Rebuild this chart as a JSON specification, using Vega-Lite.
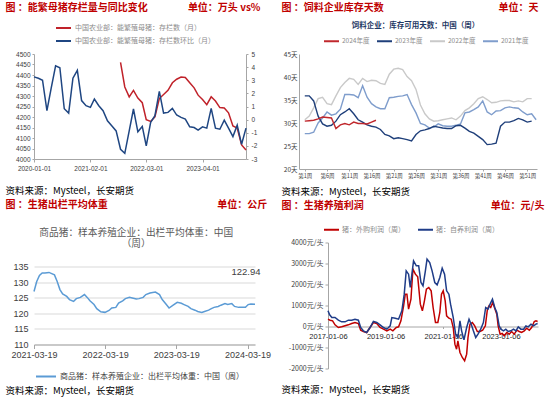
{
  "$schema": "https://vega.github.io/schema/vega-lite/v6.json",
  "autosize": "none",
  "padding": {"left": 34, "top": 54, "right": 516, "bottom": 343},
  "background": "white",
  "config": {
    "view": {"stroke": null},
    "font": "Noto Sans CJK SC",
    "axis": {"labelFont": "Liberation Sans", "titleFont": "Noto Sans CJK SC", "labelColor": "#404040", "domainColor": "#a6a6a6", "tickColor": "#a6a6a6", "grid": false, "labelFlush": false, "labelOverlap": false},
    "legend": {"labelFont": "Noto Sans CJK SC", "symbolType": "stroke", "symbolStrokeWidth": 2, "padding": 0, "labelLimit": 400}
  },
  "datasets": {
    "p1s": [
      {"d": "2021-09-01", "v": 4460}, {"d": "2021-10-01", "v": 4343}, {"d": "2021-11-01", "v": 4296}, {"d": "2021-12-01", "v": 4327},
      {"d": "2022-01-01", "v": 4290}, {"d": "2022-02-01", "v": 4268}, {"d": "2022-03-01", "v": 4187}, {"d": "2022-04-01", "v": 4179},
      {"d": "2022-05-01", "v": 4200}, {"d": "2022-06-01", "v": 4288}, {"d": "2022-07-01", "v": 4307}, {"d": "2022-08-01", "v": 4327},
      {"d": "2022-09-01", "v": 4363}, {"d": "2022-10-01", "v": 4380}, {"d": "2022-11-01", "v": 4390}, {"d": "2022-12-01", "v": 4388},
      {"d": "2023-01-01", "v": 4363}, {"d": "2023-02-01", "v": 4339}, {"d": "2023-03-01", "v": 4304}, {"d": "2023-04-01", "v": 4283},
      {"d": "2023-05-01", "v": 4259}, {"d": "2023-06-01", "v": 4296}, {"d": "2023-07-01", "v": 4276}, {"d": "2023-08-01", "v": 4245},
      {"d": "2023-09-01", "v": 4243}, {"d": "2023-10-01", "v": 4220}, {"d": "2023-11-01", "v": 4157}, {"d": "2023-12-01", "v": 4147},
      {"d": "2024-01-01", "v": 4067}, {"d": "2024-02-01", "v": 4043}
    ],
    "p1m": [
      {"d": "2020-01-01", "v": 3.26}, {"d": "2020-02-01", "v": 3.15}, {"d": "2020-03-01", "v": 3.0}, {"d": "2020-04-01", "v": 0.68},
      {"d": "2020-05-01", "v": 2.4}, {"d": "2020-06-01", "v": 4.1}, {"d": "2020-07-01", "v": 3.95}, {"d": "2020-08-01", "v": 0.83},
      {"d": "2020-09-01", "v": 0.5}, {"d": "2020-10-01", "v": 3.16}, {"d": "2020-11-01", "v": 3.75}, {"d": "2020-12-01", "v": 1.45},
      {"d": "2021-01-01", "v": 1.06}, {"d": "2021-02-01", "v": 0.93}, {"d": "2021-03-01", "v": 1.57}, {"d": "2021-04-01", "v": 1.06},
      {"d": "2021-05-01", "v": 0.68}, {"d": "2021-06-01", "v": -0.09}, {"d": "2021-07-01", "v": -0.47}, {"d": "2021-08-01", "v": -0.86},
      {"d": "2021-09-01", "v": -2.26}, {"d": "2021-10-01", "v": -2.57}, {"d": "2021-11-01", "v": -0.86}, {"d": "2021-12-01", "v": 0.81},
      {"d": "2022-01-01", "v": -0.93}, {"d": "2022-02-01", "v": -0.52}, {"d": "2022-03-01", "v": -2.0}, {"d": "2022-04-01", "v": -0.2},
      {"d": "2022-05-01", "v": 0.3}, {"d": "2022-06-01", "v": 2.16}, {"d": "2022-07-01", "v": 0.5}, {"d": "2022-08-01", "v": 0.55},
      {"d": "2022-09-01", "v": 0.86}, {"d": "2022-10-01", "v": 0.35}, {"d": "2022-11-01", "v": 0.17}, {"d": "2022-12-01", "v": 0.04},
      {"d": "2023-01-01", "v": -0.55}, {"d": "2023-02-01", "v": -0.6}, {"d": "2023-03-01", "v": -0.8}, {"d": "2023-04-01", "v": -0.55},
      {"d": "2023-05-01", "v": -0.65}, {"d": "2023-06-01", "v": 0.86}, {"d": "2023-07-01", "v": -0.65}, {"d": "2023-08-01", "v": -0.73},
      {"d": "2023-09-01", "v": -0.04}, {"d": "2023-10-01", "v": -0.65}, {"d": "2023-11-01", "v": -1.29}, {"d": "2023-12-01", "v": -0.42},
      {"d": "2024-01-01", "v": -1.88}, {"d": "2024-02-01", "v": -0.65}
    ],
    "p2": [
      {"w": 1, "yr": "2022年度", "v": 30.7}, {"w": 2, "yr": "2022年度", "v": 31.5}, {"w": 3, "yr": "2022年度", "v": 33.3}, {"w": 4, "yr": "2022年度", "v": 35.3},
      {"w": 5, "yr": "2022年度", "v": 35.6}, {"w": 6, "yr": "2022年度", "v": 34.2}, {"w": 7, "yr": "2022年度", "v": 34.0}, {"w": 8, "yr": "2022年度", "v": 35.9},
      {"w": 9, "yr": "2022年度", "v": 37.7}, {"w": 10, "yr": "2022年度", "v": 38.8}, {"w": 11, "yr": "2022年度", "v": 39.7}, {"w": 12, "yr": "2022年度", "v": 39.5},
      {"w": 13, "yr": "2022年度", "v": 38.4}, {"w": 14, "yr": "2022年度", "v": 39.7}, {"w": 15, "yr": "2022年度", "v": 39.0}, {"w": 16, "yr": "2022年度", "v": 39.3},
      {"w": 17, "yr": "2022年度", "v": 39.2}, {"w": 18, "yr": "2022年度", "v": 38.6}, {"w": 19, "yr": "2022年度", "v": 38.4}, {"w": 20, "yr": "2022年度", "v": 40.6},
      {"w": 21, "yr": "2022年度", "v": 41.7}, {"w": 22, "yr": "2022年度", "v": 41.9}, {"w": 23, "yr": "2022年度", "v": 41.6}, {"w": 24, "yr": "2022年度", "v": 40.1},
      {"w": 25, "yr": "2022年度", "v": 39.2}, {"w": 26, "yr": "2022年度", "v": 37.3}, {"w": 27, "yr": "2022年度", "v": 33.9}, {"w": 28, "yr": "2022年度", "v": 32.0},
      {"w": 29, "yr": "2022年度", "v": 30.9}, {"w": 30, "yr": "2022年度", "v": 30.4}, {"w": 31, "yr": "2022年度", "v": 30.5}, {"w": 32, "yr": "2022年度", "v": 30.7},
      {"w": 33, "yr": "2022年度", "v": 30.9}, {"w": 34, "yr": "2022年度", "v": 31.1}, {"w": 35, "yr": "2022年度", "v": 30.7}, {"w": 36, "yr": "2022年度", "v": 31.5},
      {"w": 37, "yr": "2022年度", "v": 32.7}, {"w": 38, "yr": "2022年度", "v": 33.3}, {"w": 39, "yr": "2022年度", "v": 34.2}, {"w": 40, "yr": "2022年度", "v": 35.3},
      {"w": 41, "yr": "2022年度", "v": 35.7}, {"w": 42, "yr": "2022年度", "v": 35.1}, {"w": 43, "yr": "2022年度", "v": 34.4}, {"w": 44, "yr": "2022年度", "v": 34.5},
      {"w": 45, "yr": "2022年度", "v": 34.8}, {"w": 46, "yr": "2022年度", "v": 34.9}, {"w": 47, "yr": "2022年度", "v": 34.9}, {"w": 48, "yr": "2022年度", "v": 34.6},
      {"w": 49, "yr": "2022年度", "v": 34.8}, {"w": 50, "yr": "2022年度", "v": 34.6}, {"w": 51, "yr": "2022年度", "v": 35.3}, {"w": 52, "yr": "2022年度", "v": 35.3},
      {"w": 1, "yr": "2021年度", "v": 27.7}, {"w": 2, "yr": "2021年度", "v": 27.7}, {"w": 3, "yr": "2021年度", "v": 28.0}, {"w": 4, "yr": "2021年度", "v": 30.0},
      {"w": 5, "yr": "2021年度", "v": 31.1}, {"w": 6, "yr": "2021年度", "v": 32.4}, {"w": 7, "yr": "2021年度", "v": 31.7}, {"w": 8, "yr": "2021年度", "v": 32.0},
      {"w": 9, "yr": "2021年度", "v": 33.0}, {"w": 10, "yr": "2021年度", "v": 36.2}, {"w": 11, "yr": "2021年度", "v": 36.2}, {"w": 12, "yr": "2021年度", "v": 36.1},
      {"w": 13, "yr": "2021年度", "v": 35.5}, {"w": 14, "yr": "2021年度", "v": 38.1}, {"w": 15, "yr": "2021年度", "v": 35.6}, {"w": 16, "yr": "2021年度", "v": 34.2},
      {"w": 17, "yr": "2021年度", "v": 33.5}, {"w": 18, "yr": "2021年度", "v": 33.1}, {"w": 19, "yr": "2021年度", "v": 33.1}, {"w": 20, "yr": "2021年度", "v": 35.5},
      {"w": 21, "yr": "2021年度", "v": 35.6}, {"w": 22, "yr": "2021年度", "v": 35.8}, {"w": 23, "yr": "2021年度", "v": 35.9}, {"w": 24, "yr": "2021年度", "v": 36.2},
      {"w": 25, "yr": "2021年度", "v": 34.0}, {"w": 26, "yr": "2021年度", "v": 32.2}, {"w": 27, "yr": "2021年度", "v": 29.9}, {"w": 28, "yr": "2021年度", "v": 29.6},
      {"w": 29, "yr": "2021年度", "v": 28.9}, {"w": 30, "yr": "2021年度", "v": 29.1}, {"w": 31, "yr": "2021年度", "v": 29.8}, {"w": 32, "yr": "2021年度", "v": 29.4},
      {"w": 33, "yr": "2021年度", "v": 29.3}, {"w": 34, "yr": "2021年度", "v": 29.3}, {"w": 35, "yr": "2021年度", "v": 29.5}, {"w": 36, "yr": "2021年度", "v": 29.8},
      {"w": 37, "yr": "2021年度", "v": 32.2}, {"w": 38, "yr": "2021年度", "v": 32.4}, {"w": 39, "yr": "2021年度", "v": 32.9}, {"w": 40, "yr": "2021年度", "v": 33.5},
      {"w": 41, "yr": "2021年度", "v": 34.8}, {"w": 42, "yr": "2021年度", "v": 32.4}, {"w": 43, "yr": "2021年度", "v": 31.8}, {"w": 44, "yr": "2021年度", "v": 32.6},
      {"w": 45, "yr": "2021年度", "v": 32.7}, {"w": 46, "yr": "2021年度", "v": 33.3}, {"w": 47, "yr": "2021年度", "v": 33.5}, {"w": 48, "yr": "2021年度", "v": 33.3},
      {"w": 49, "yr": "2021年度", "v": 33.2}, {"w": 50, "yr": "2021年度", "v": 32.4}, {"w": 51, "yr": "2021年度", "v": 31.8}, {"w": 52, "yr": "2021年度", "v": 32.0},
      {"w": 53, "yr": "2021年度", "v": 30.7},
      {"w": 1, "yr": "2023年度", "v": 35.9}, {"w": 2, "yr": "2023年度", "v": 35.9}, {"w": 3, "yr": "2023年度", "v": 34.8}, {"w": 4, "yr": "2023年度", "v": 31.5},
      {"w": 5, "yr": "2023年度", "v": 29.8}, {"w": 6, "yr": "2023年度", "v": 29.3}, {"w": 7, "yr": "2023年度", "v": 29.5}, {"w": 8, "yr": "2023年度", "v": 30.4},
      {"w": 9, "yr": "2023年度", "v": 31.8}, {"w": 10, "yr": "2023年度", "v": 32.4}, {"w": 11, "yr": "2023年度", "v": 33.1}, {"w": 12, "yr": "2023年度", "v": 32.0},
      {"w": 13, "yr": "2023年度", "v": 30.7}, {"w": 14, "yr": "2023年度", "v": 30.2}, {"w": 15, "yr": "2023年度", "v": 29.6}, {"w": 16, "yr": "2023年度", "v": 29.3},
      {"w": 17, "yr": "2023年度", "v": 29.1}, {"w": 18, "yr": "2023年度", "v": 28.6}, {"w": 19, "yr": "2023年度", "v": 27.5}, {"w": 20, "yr": "2023年度", "v": 27.2},
      {"w": 21, "yr": "2023年度", "v": 26.6}, {"w": 22, "yr": "2023年度", "v": 26.8}, {"w": 23, "yr": "2023年度", "v": 26.6}, {"w": 24, "yr": "2023年度", "v": 26.4},
      {"w": 25, "yr": "2023年度", "v": 26.1}, {"w": 26, "yr": "2023年度", "v": 27.5}, {"w": 27, "yr": "2023年度", "v": 28.3}, {"w": 28, "yr": "2023年度", "v": 28.5},
      {"w": 29, "yr": "2023年度", "v": 28.8}, {"w": 30, "yr": "2023年度", "v": 29.3}, {"w": 31, "yr": "2023年度", "v": 29.1}, {"w": 32, "yr": "2023年度", "v": 28.9},
      {"w": 33, "yr": "2023年度", "v": 28.8}, {"w": 34, "yr": "2023年度", "v": 28.8}, {"w": 35, "yr": "2023年度", "v": 29.4}, {"w": 36, "yr": "2023年度", "v": 29.5},
      {"w": 37, "yr": "2023年度", "v": 28.9}, {"w": 38, "yr": "2023年度", "v": 28.2}, {"w": 39, "yr": "2023年度", "v": 27.8}, {"w": 40, "yr": "2023年度", "v": 27.1},
      {"w": 41, "yr": "2023年度", "v": 26.4}, {"w": 42, "yr": "2023年度", "v": 25.3}, {"w": 43, "yr": "2023年度", "v": 25.4}, {"w": 44, "yr": "2023年度", "v": 25.6},
      {"w": 45, "yr": "2023年度", "v": 29.3}, {"w": 46, "yr": "2023年度", "v": 30.2}, {"w": 47, "yr": "2023年度", "v": 30.2}, {"w": 48, "yr": "2023年度", "v": 30.5},
      {"w": 49, "yr": "2023年度", "v": 31.0}, {"w": 50, "yr": "2023年度", "v": 30.7}, {"w": 51, "yr": "2023年度", "v": 30.2}, {"w": 52, "yr": "2023年度", "v": 30.4},
      {"w": 1, "yr": "2024年度", "v": 30.4}, {"w": 2, "yr": "2024年度", "v": 30.5}, {"w": 3, "yr": "2024年度", "v": 30.6}, {"w": 4, "yr": "2024年度", "v": 30.9},
      {"w": 5, "yr": "2024年度", "v": 31.3}, {"w": 6, "yr": "2024年度", "v": 31.2}, {"w": 7, "yr": "2024年度", "v": 31.1}, {"w": 8, "yr": "2024年度", "v": 28.8},
      {"w": 9, "yr": "2024年度", "v": 29.6}, {"w": 10, "yr": "2024年度", "v": 29.9}, {"w": 11, "yr": "2024年度", "v": 29.6}, {"w": 12, "yr": "2024年度", "v": 30.2},
      {"w": 13, "yr": "2024年度", "v": 29.9}, {"w": 14, "yr": "2024年度", "v": 29.9}, {"w": 15, "yr": "2024年度", "v": 29.8}, {"w": 16, "yr": "2024年度", "v": 30.2},
      {"w": 17, "yr": "2024年度", "v": 30.6}
    ],
    "p3": [
      {"d": "2021-03-19", "v": 127.0}, {"d": "2021-04-02", "v": 130.2}, {"d": "2021-04-16", "v": 132.1}, {"d": "2021-04-30", "v": 132.9},
      {"d": "2021-05-14", "v": 132.9}, {"d": "2021-06-04", "v": 133.1}, {"d": "2021-06-18", "v": 132.7}, {"d": "2021-07-02", "v": 132.3},
      {"d": "2021-07-16", "v": 130.2}, {"d": "2021-07-30", "v": 127.6}, {"d": "2021-08-13", "v": 126.2}, {"d": "2021-09-03", "v": 125.4},
      {"d": "2021-09-17", "v": 124.4}, {"d": "2021-10-08", "v": 123.8}, {"d": "2021-10-22", "v": 124.7}, {"d": "2021-11-12", "v": 125.1},
      {"d": "2021-12-03", "v": 126.0}, {"d": "2021-12-17", "v": 125.1}, {"d": "2021-12-31", "v": 124.0}, {"d": "2022-01-21", "v": 122.8},
      {"d": "2022-02-04", "v": 121.5}, {"d": "2022-02-25", "v": 120.5}, {"d": "2022-03-18", "v": 120.3}, {"d": "2022-04-08", "v": 120.9},
      {"d": "2022-04-22", "v": 121.7}, {"d": "2022-05-13", "v": 121.9}, {"d": "2022-05-27", "v": 123.3}, {"d": "2022-06-17", "v": 124.0},
      {"d": "2022-07-01", "v": 124.7}, {"d": "2022-07-22", "v": 125.1}, {"d": "2022-08-05", "v": 124.9}, {"d": "2022-08-26", "v": 124.6},
      {"d": "2022-09-09", "v": 124.7}, {"d": "2022-09-30", "v": 125.1}, {"d": "2022-10-14", "v": 126.0}, {"d": "2022-11-04", "v": 126.5},
      {"d": "2022-11-18", "v": 126.7}, {"d": "2022-12-02", "v": 126.8}, {"d": "2022-12-23", "v": 126.0}, {"d": "2023-01-06", "v": 124.4},
      {"d": "2023-01-27", "v": 122.8}, {"d": "2023-02-10", "v": 121.7}, {"d": "2023-03-03", "v": 122.6}, {"d": "2023-03-24", "v": 123.5},
      {"d": "2023-04-14", "v": 123.2}, {"d": "2023-04-28", "v": 122.8}, {"d": "2023-05-19", "v": 122.2}, {"d": "2023-06-02", "v": 121.5},
      {"d": "2023-06-23", "v": 121.0}, {"d": "2023-07-07", "v": 120.6}, {"d": "2023-07-28", "v": 120.3}, {"d": "2023-08-11", "v": 120.6},
      {"d": "2023-09-01", "v": 121.0}, {"d": "2023-09-15", "v": 121.5}, {"d": "2023-09-29", "v": 121.9}, {"d": "2023-10-20", "v": 122.2},
      {"d": "2023-11-03", "v": 122.6}, {"d": "2023-11-24", "v": 123.1}, {"d": "2023-12-08", "v": 122.8}, {"d": "2023-12-29", "v": 123.1},
      {"d": "2024-01-12", "v": 122.2}, {"d": "2024-02-02", "v": 121.9}, {"d": "2024-02-16", "v": 121.9}, {"d": "2024-03-08", "v": 121.9},
      {"d": "2024-03-22", "v": 122.8}, {"d": "2024-04-05", "v": 123.0}, {"d": "2024-04-26", "v": 122.94}
    ],
    "p4r": [
      {"d": "2017-01-06", "v": 349}, {"d": "2017-02-01", "v": 301}, {"d": "2017-03-05", "v": 270}, {"d": "2017-04-05", "v": 79},
      {"d": "2017-05-17", "v": -48}, {"d": "2017-06-28", "v": -16}, {"d": "2017-08-10", "v": 32}, {"d": "2017-09-21", "v": 79},
      {"d": "2017-11-02", "v": 143}, {"d": "2017-12-14", "v": 190}, {"d": "2018-01-26", "v": 143}, {"d": "2018-02-24", "v": -175},
      {"d": "2018-03-30", "v": -238}, {"d": "2018-05-11", "v": -286}, {"d": "2018-06-23", "v": -48}, {"d": "2018-08-04", "v": 190},
      {"d": "2018-09-16", "v": 143}, {"d": "2018-10-28", "v": -48}, {"d": "2018-12-10", "v": -127}, {"d": "2019-01-22", "v": -206},
      {"d": "2019-03-05", "v": -127}, {"d": "2019-04-08", "v": -206}, {"d": "2019-05-21", "v": -48}, {"d": "2019-06-19", "v": -16},
      {"d": "2019-07-19", "v": 270}, {"d": "2019-08-22", "v": 984}, {"d": "2019-09-12", "v": 1539}, {"d": "2019-10-03", "v": 1539},
      {"d": "2019-10-24", "v": 825}, {"d": "2019-11-23", "v": 1301}, {"d": "2019-12-18", "v": 2730}, {"d": "2020-01-18", "v": 2492},
      {"d": "2020-02-17", "v": 2365}, {"d": "2020-03-21", "v": 1063}, {"d": "2020-04-16", "v": 746}, {"d": "2020-05-12", "v": 1222},
      {"d": "2020-06-06", "v": 1777}, {"d": "2020-07-06", "v": 1857}, {"d": "2020-08-05", "v": 1698}, {"d": "2020-08-30", "v": 905},
      {"d": "2020-09-29", "v": 190}, {"d": "2020-10-29", "v": 190}, {"d": "2020-11-23", "v": 666}, {"d": "2020-12-14", "v": 1539},
      {"d": "2021-01-05", "v": 1698}, {"d": "2021-01-30", "v": 1222}, {"d": "2021-02-17", "v": 508}, {"d": "2021-03-18", "v": 397},
      {"d": "2021-04-16", "v": 349}, {"d": "2021-05-12", "v": -48}, {"d": "2021-06-02", "v": -841}, {"d": "2021-06-23", "v": -1079},
      {"d": "2021-07-10", "v": -682}, {"d": "2021-08-05", "v": -1238}, {"d": "2021-09-04", "v": -1476}, {"d": "2021-10-03", "v": -1635},
      {"d": "2021-10-29", "v": -1317}, {"d": "2021-11-15", "v": -524}, {"d": "2021-12-10", "v": 111}, {"d": "2022-01-09", "v": 190},
      {"d": "2022-02-08", "v": 32}, {"d": "2022-03-13", "v": -238}, {"d": "2022-04-16", "v": -238}, {"d": "2022-05-20", "v": -175},
      {"d": "2022-06-23", "v": 32}, {"d": "2022-07-19", "v": 825}, {"d": "2022-08-09", "v": 984}, {"d": "2022-08-30", "v": 905},
      {"d": "2022-09-25", "v": 1143}, {"d": "2022-10-24", "v": 825}, {"d": "2022-11-15", "v": 587}, {"d": "2022-12-02", "v": 32},
      {"d": "2022-12-27", "v": -365}, {"d": "2023-01-22", "v": -333}, {"d": "2023-02-16", "v": -444}, {"d": "2023-03-22", "v": -286},
      {"d": "2023-04-21", "v": -365}, {"d": "2023-05-21", "v": -238}, {"d": "2023-06-24", "v": -365}, {"d": "2023-07-27", "v": -175},
      {"d": "2023-08-26", "v": -238}, {"d": "2023-09-25", "v": -286}, {"d": "2023-10-29", "v": -206}, {"d": "2023-11-28", "v": -79},
      {"d": "2024-01-01", "v": -175}, {"d": "2024-01-30", "v": -48}, {"d": "2024-03-04", "v": 238}, {"d": "2024-03-25", "v": 270},
      {"d": "2024-04-15", "v": 238}
    ],
    "p4b": [
      {"d": "2017-01-06", "v": 746}, {"d": "2017-01-27", "v": 555}, {"d": "2017-02-24", "v": 428}, {"d": "2017-04-05", "v": 428},
      {"d": "2017-05-17", "v": 301}, {"d": "2017-06-28", "v": 222}, {"d": "2017-08-10", "v": 222}, {"d": "2017-09-21", "v": 301},
      {"d": "2017-11-02", "v": 301}, {"d": "2017-12-14", "v": 349}, {"d": "2018-01-26", "v": 301}, {"d": "2018-02-24", "v": -48},
      {"d": "2018-03-30", "v": -206}, {"d": "2018-05-11", "v": -286}, {"d": "2018-06-23", "v": -48}, {"d": "2018-08-04", "v": 238},
      {"d": "2018-09-16", "v": 190}, {"d": "2018-10-28", "v": 79}, {"d": "2018-12-10", "v": -48}, {"d": "2019-01-22", "v": -127},
      {"d": "2019-03-05", "v": 32}, {"d": "2019-03-26", "v": 428}, {"d": "2019-05-08", "v": 397}, {"d": "2019-06-19", "v": 349},
      {"d": "2019-07-31", "v": 746}, {"d": "2019-08-30", "v": 1539}, {"d": "2019-09-24", "v": 2650}, {"d": "2019-10-24", "v": 2492},
      {"d": "2019-11-14", "v": 1857}, {"d": "2019-12-05", "v": 2492}, {"d": "2019-12-26", "v": 3126}, {"d": "2020-01-30", "v": 2888},
      {"d": "2020-02-29", "v": 2888}, {"d": "2020-03-29", "v": 2095}, {"d": "2020-04-24", "v": 1936}, {"d": "2020-05-24", "v": 2650},
      {"d": "2020-06-14", "v": 3206}, {"d": "2020-07-18", "v": 3047}, {"d": "2020-08-17", "v": 2650}, {"d": "2020-09-20", "v": 2095},
      {"d": "2020-10-20", "v": 1984}, {"d": "2020-11-23", "v": 2333}, {"d": "2020-12-23", "v": 2777}, {"d": "2021-01-22", "v": 2492},
      {"d": "2021-02-17", "v": 1698}, {"d": "2021-03-18", "v": 1539}, {"d": "2021-04-08", "v": 1063}, {"d": "2021-05-12", "v": 428},
      {"d": "2021-06-11", "v": -365}, {"d": "2021-07-10", "v": -524}, {"d": "2021-08-05", "v": 270}, {"d": "2021-08-26", "v": -206},
      {"d": "2021-09-25", "v": -635}, {"d": "2021-10-29", "v": -48}, {"d": "2021-11-28", "v": 349}, {"d": "2021-12-28", "v": 79},
      {"d": "2022-01-22", "v": -206}, {"d": "2022-02-21", "v": -524}, {"d": "2022-03-22", "v": -365}, {"d": "2022-04-25", "v": -127},
      {"d": "2022-05-29", "v": 190}, {"d": "2022-06-27", "v": 905}, {"d": "2022-07-27", "v": 825}, {"d": "2022-08-22", "v": 1063},
      {"d": "2022-09-21", "v": 1301}, {"d": "2022-10-20", "v": 905}, {"d": "2022-11-15", "v": 666}, {"d": "2022-12-15", "v": 32},
      {"d": "2023-01-05", "v": -127}, {"d": "2023-02-08", "v": -206}, {"d": "2023-03-09", "v": -127}, {"d": "2023-04-08", "v": -238},
      {"d": "2023-05-12", "v": -206}, {"d": "2023-06-15", "v": -127}, {"d": "2023-07-15", "v": -206}, {"d": "2023-08-14", "v": -16},
      {"d": "2023-09-16", "v": -127}, {"d": "2023-10-20", "v": -127}, {"d": "2023-11-19", "v": 32}, {"d": "2023-12-18", "v": -16},
      {"d": "2024-01-22", "v": 111}, {"d": "2024-02-24", "v": 32}, {"d": "2024-03-25", "v": 111}, {"d": "2024-04-15", "v": 143}
    ]
  },
  "spacing": 2.5,
  "resolve": {"scale": {"color": "independent"}, "legend": {"color": "independent"}},
  "vconcat": [
    {
      "spacing": 53,
      "bounds": "flush",
      "resolve": {"scale": {"color": "independent"}, "legend": {"color": "independent"}},
      "hconcat": [
        {
          "width": 212,
          "height": 105,
          "encoding": {
            "x": {
              "field": "d", "type": "temporal",
              "scale": {"type": "utc", "domain": [{"year": 2020, "month": 1, "date": 1, "utc": true}, {"year": 2024, "month": 2, "date": 1, "utc": true}]},
              "axis": {
                "values": [{"year": 2020, "month": 1, "date": 1, "utc": true}, {"year": 2021, "month": 2, "date": 1, "utc": true}, {"year": 2022, "month": 3, "date": 1, "utc": true}, {"year": 2023, "month": 4, "date": 1, "utc": true}],
                "format": "%Y-%m-%d", "labelFontSize": 6.5, "tickSize": 3, "labelPadding": 3,
                "title": "资料来源：Mysteel，长安期货", "titleX": -29, "titleY": 31.5, "titleAlign": "left", "titleBaseline": "middle",
                "titleFontSize": 9.5, "titleFontWeight": "normal", "titleColor": "#000000"
              }
            }
          },
          "layer": [
            {
              "data": {"name": "p1s"},
              "mark": {"type": "line", "strokeWidth": 1.5},
              "encoding": {
                "y": {
                  "field": "v", "type": "quantitative",
                  "scale": {"domain": [4000, 4500], "nice": false, "zero": false},
                  "axis": {
                    "values": [4000, 4050, 4100, 4150, 4200, 4250, 4300, 4350, 4400, 4450, 4500],
                    "format": "d", "labelFontSize": 6.5, "tickSize": 2, "labelPadding": 2,
                    "title": "图 ：能繁母猪存栏量与同比变化", "titleAngle": 0, "titleX": -29, "titleY": -47, "titleAlign": "left", "titleBaseline": "middle",
                    "titleFontSize": 10, "titleFontWeight": "bold", "titleColor": "#C00000"
                  }
                },
                "color": {
                  "datum": "中国农业部：能繁殖母猪：存栏数（月）",
                  "scale": {"domain": ["中国农业部：能繁殖母猪：存栏数（月）", "中国农业部：能繁殖母猪：存栏数环比（月）"], "range": ["#c0222a", "#1f4682"]},
                  "legend": {"orient": "none", "legendX": 21, "legendY": -34.5, "direction": "vertical", "title": null, "labelFontSize": 7, "labelColor": "#8c8c8c", "symbolSize": 225, "rowPadding": -4, "labelOffset": 3}
                }
              }
            },
            {
              "data": {"name": "p1m"},
              "mark": {"type": "line", "strokeWidth": 1.5},
              "encoding": {
                "y": {
                  "field": "v", "type": "quantitative",
                  "scale": {"domain": [-3, 5], "nice": false, "zero": false},
                  "axis": {
                    "orient": "right", "values": [-3, -2, -1, 0, 1, 2, 3, 4, 5], "labelExpr": "'' + datum.value",
                    "labelFontSize": 6.5, "tickSize": 2, "labelPadding": 3,
                    "title": "单位：万头 vs%", "titleAngle": 0, "titleX": 14, "titleY": -47, "titleAlign": "right", "titleBaseline": "middle",
                    "titleFontSize": 10, "titleFontWeight": "bold", "titleColor": "#C00000"
                  }
                },
                "color": {"datum": "中国农业部：能繁殖母猪：存栏数环比（月）"}
              }
            }
          ],
          "resolve": {"scale": {"y": "independent"}}
        },
        {
          "width": 238,
          "height": 115,
          "data": {"name": "p2"},
          "layer": [
            {
              "mark": {"type": "line", "strokeWidth": 1.4},
              "encoding": {
                "x": {
                  "field": "w", "type": "quantitative",
                  "scale": {"domain": [-0.3, 53.2], "nice": false, "zero": false},
                  "axis": {
                    "values": [1, 6, 11, 16, 21, 26, 31, 36, 41, 46, 51], "labelExpr": "'第' + datum.value + '周'",
                    "labelFont": "Noto Sans CJK SC", "labelFontSize": 5.5, "tickSize": 2, "labelPadding": 2,
                    "title": "资料来源：Mysteel，长安期货", "titleX": -18, "titleY": 22.7, "titleAlign": "left", "titleBaseline": "middle",
                    "titleFontSize": 9.5, "titleFontWeight": "normal", "titleColor": "#000000"
                  }
                },
                "y": {
                  "field": "v", "type": "quantitative",
                  "scale": {"domain": [20, 45], "nice": false, "zero": false},
                  "axis": {
                    "values": [20, 25, 30, 35, 40, 45], "labelExpr": "datum.value + '天'",
                    "labelFont": "Noto Sans CJK SC", "labelFontSize": 6.5, "ticks": false, "labelPadding": 2,
                    "title": "图 ：饲料企业库存天数", "titleAngle": 0, "titleX": -18, "titleY": -47, "titleAlign": "left", "titleBaseline": "middle",
                    "titleFontSize": 10, "titleFontWeight": "bold", "titleColor": "#C00000"
                  }
                },
                "color": {
                  "field": "yr", "type": "nominal",
                  "scale": {"domain": ["2024年度", "2023年度", "2022年度", "2021年度"], "range": ["#c0282d", "#1f3f7a", "#c9c9c9", "#7f9dcc"]},
                  "legend": {"orient": "none", "legendX": 24, "legendY": -21.5, "direction": "horizontal", "columns": 4, "title": null, "labelFontSize": 6.5, "labelColor": "#8c8c8c", "symbolSize": 225, "columnPadding": 3, "labelOffset": 2}
                }
              }
            },
            {
              "mark": {"type": "line", "opacity": 0},
              "encoding": {
                "x": {
                  "field": "w", "type": "quantitative",
                  "scale": {"domain": [-0.3, 53.2], "nice": false, "zero": false},
                  "axis": {
                    "orient": "top", "labels": false, "ticks": false, "domain": false,
                    "title": "饲料企业：库存可用天数：中国（周）", "titleX": 116, "titleY": -29, "titleAlign": "center", "titleBaseline": "middle",
                    "titleFontSize": 7.5, "titleFontWeight": "bold", "titleColor": "#1f3864"
                  }
                },
                "y": {
                  "field": "v", "type": "quantitative",
                  "scale": {"domain": [20, 45], "nice": false, "zero": false},
                  "axis": {
                    "orient": "right", "labels": false, "ticks": false, "domain": false,
                    "title": "单位：天", "titleAngle": 0, "titleX": 1, "titleY": -47, "titleAlign": "right", "titleBaseline": "middle",
                    "titleFontSize": 10, "titleFontWeight": "bold", "titleColor": "#C00000"
                  }
                }
              }
            }
          ],
          "resolve": {"axis": {"x": "independent", "y": "independent"}}
        }
      ]
    },
    {
      "spacing": 73,
      "bounds": "flush",
      "center": true,
      "resolve": {"scale": {"color": "independent"}, "legend": {"color": "independent"}},
      "hconcat": [
        {
          "width": 221,
          "height": 78,
          "data": {"name": "p3"},
          "layer": [
            {
              "mark": {"type": "line", "strokeWidth": 1.5},
              "encoding": {
                "x": {
                  "field": "d", "type": "temporal",
                  "scale": {"type": "utc", "domain": [{"year": 2021, "month": 3, "date": 19, "utc": true}, {"year": 2024, "month": 4, "date": 26, "utc": true}]},
                  "axis": {
                    "values": [{"year": 2021, "month": 3, "date": 19, "utc": true}, {"year": 2022, "month": 3, "date": 19, "utc": true}, {"year": 2023, "month": 3, "date": 19, "utc": true}, {"year": 2024, "month": 3, "date": 19, "utc": true}],
                    "format": "%Y-%m-%d", "labelFontSize": 9, "tickSize": 4, "labelPadding": 2,
                    "title": "资料来源：Mysteel，长安期货", "titleX": -29, "titleY": 46, "titleAlign": "left", "titleBaseline": "middle",
                    "titleFontSize": 9.5, "titleFontWeight": "normal", "titleColor": "#000000"
                  }
                },
                "y": {
                  "field": "v", "type": "quantitative",
                  "scale": {"domain": [110, 135], "nice": false, "zero": false},
                  "axis": {
                    "values": [110, 115, 120, 125, 130, 135], "format": "d", "labelFontSize": 9, "ticks": false, "domain": false, "labelPadding": 6,
                    "grid": true, "gridColor": "#d9d9d9",
                    "title": "图 ：生猪出栏平均体重", "titleAngle": 0, "titleX": -29, "titleY": -62, "titleAlign": "left", "titleBaseline": "middle",
                    "titleFontSize": 10, "titleFontWeight": "bold", "titleColor": "#C00000"
                  }
                },
                "color": {
                  "datum": "商品猪：样本养殖企业：出栏平均体重：中国（周）",
                  "scale": {"range": ["#5b9bd5"]},
                  "legend": {"orient": "none", "legendX": 1, "legendY": 99, "title": null, "labelFontSize": 8, "labelColor": "#404040", "symbolSize": 400, "labelOffset": 3}
                }
              }
            },
            {
              "mark": {"type": "line", "opacity": 0},
              "encoding": {
                "x": {
                  "field": "d", "type": "temporal",
                  "scale": {"type": "utc", "domain": [{"year": 2021, "month": 3, "date": 19, "utc": true}, {"year": 2024, "month": 4, "date": 26, "utc": true}]},
                  "axis": {
                    "orient": "top", "labels": false, "ticks": false, "domain": false,
                    "title": ["商品猪：样本养殖企业：出栏平均体重：中国", "（周）"], "titleX": 101.7, "titleY": -39.5, "titleAlign": "center", "titleBaseline": "top",
                    "titleLineHeight": 11.6, "titleFontSize": 9.7, "titleFontWeight": "normal", "titleColor": "#595959"
                  }
                },
                "y": {
                  "field": "v", "type": "quantitative",
                  "scale": {"domain": [110, 135], "nice": false, "zero": false},
                  "axis": {
                    "orient": "right", "values": [122.94], "format": ".2f", "ticks": false, "domain": false, "grid": false,
                    "labelAlign": "right", "labelBaseline": "middle", "labelPadding": 5, "labelOffset": -33,
                    "labelFont": "Liberation Sans", "labelFontSize": 9.5, "labelColor": "#404040",
                    "title": "单位：公斤", "titleAngle": 0, "titleX": 11.7, "titleY": -62, "titleAlign": "right", "titleBaseline": "middle",
                    "titleFontSize": 10, "titleFontWeight": "bold", "titleColor": "#C00000"
                  }
                }
              }
            }
          ],
          "resolve": {"scale": {"x": "shared", "y": "shared"}, "axis": {"x": "independent", "y": "independent"}}
        },
        {
          "width": 210,
          "height": 126,
          "encoding": {
            "x": {
              "field": "d", "type": "temporal",
              "scale": {"type": "utc", "domain": [{"year": 2017, "month": 1, "date": 6, "utc": true}, {"year": 2024, "month": 4, "date": 20, "utc": true}]},
              "axis": {
                "values": [{"year": 2017, "month": 1, "date": 6, "utc": true}, {"year": 2019, "month": 1, "date": 6, "utc": true}, {"year": 2021, "month": 1, "date": 6, "utc": true}, {"year": 2023, "month": 1, "date": 6, "utc": true}],
                "format": "%Y-%m-%d", "offset": -42, "labelFontSize": 7.5, "tickSize": 2, "labelPadding": 4, "labelColor": "#262626",
                "title": "资料来源：Mysteel，长安期货", "titleX": -47, "titleY": 63, "titleAlign": "left", "titleBaseline": "middle",
                "titleFontSize": 9.5, "titleFontWeight": "normal", "titleColor": "#000000"
              }
            },
            "y": {
              "field": "v", "type": "quantitative",
              "scale": {"domain": [-2000, 4000], "nice": false, "zero": false}
            }
          },
          "layer": [
            {
              "data": {"name": "p4r"},
              "mark": {"type": "line", "strokeWidth": 1.5},
              "encoding": {
                "y": {
                  "field": "v", "type": "quantitative",
                  "axis": {
                    "values": [-2000, -1000, 0, 1000, 2000, 3000, 4000], "labelExpr": "datum.value + '元/头'",
                    "labelFont": "Noto Sans CJK SC", "labelFontSize": 7, "tickSize": 3, "labelPadding": 2,
                    "title": "图 ：生猪养殖利润", "titleAngle": 0, "titleX": -47, "titleY": -37, "titleAlign": "left", "titleBaseline": "middle",
                    "titleFontSize": 10, "titleFontWeight": "bold", "titleColor": "#C00000"
                  }
                },
                "color": {
                  "datum": "猪：外购利润（周）",
                  "scale": {"domain": ["猪：外购利润（周）", "猪：自养利润（周）"], "range": ["#c00000", "#1f3c88"]},
                  "legend": {"orient": "none", "legendX": -5, "legendY": -21.5, "direction": "horizontal", "columns": 2, "title": null, "labelFontSize": 7, "labelColor": "#8c8c8c", "symbolSize": 225, "columnPadding": 9, "labelOffset": 2}
                }
              }
            },
            {
              "data": {"name": "p4b"},
              "mark": {"type": "line", "strokeWidth": 1.5},
              "encoding": {
                "y": {"field": "v", "type": "quantitative", "axis": null},
                "color": {"datum": "猪：自养利润（周）"}
              }
            },
            {
              "data": {"name": "p4r"},
              "mark": {"type": "line", "opacity": 0},
              "encoding": {
                "y": {
                  "field": "v", "type": "quantitative",
                  "axis": {
                    "orient": "right", "labels": false, "ticks": false, "domain": false,
                    "title": "单位：元/头", "titleAngle": 0, "titleX": 6, "titleY": -37, "titleAlign": "right", "titleBaseline": "middle",
                    "titleFontSize": 10, "titleFontWeight": "bold", "titleColor": "#C00000"
                  }
                }
              }
            }
          ],
          "resolve": {"axis": {"y": "independent"}}
        }
      ]
    }
  ]
}
